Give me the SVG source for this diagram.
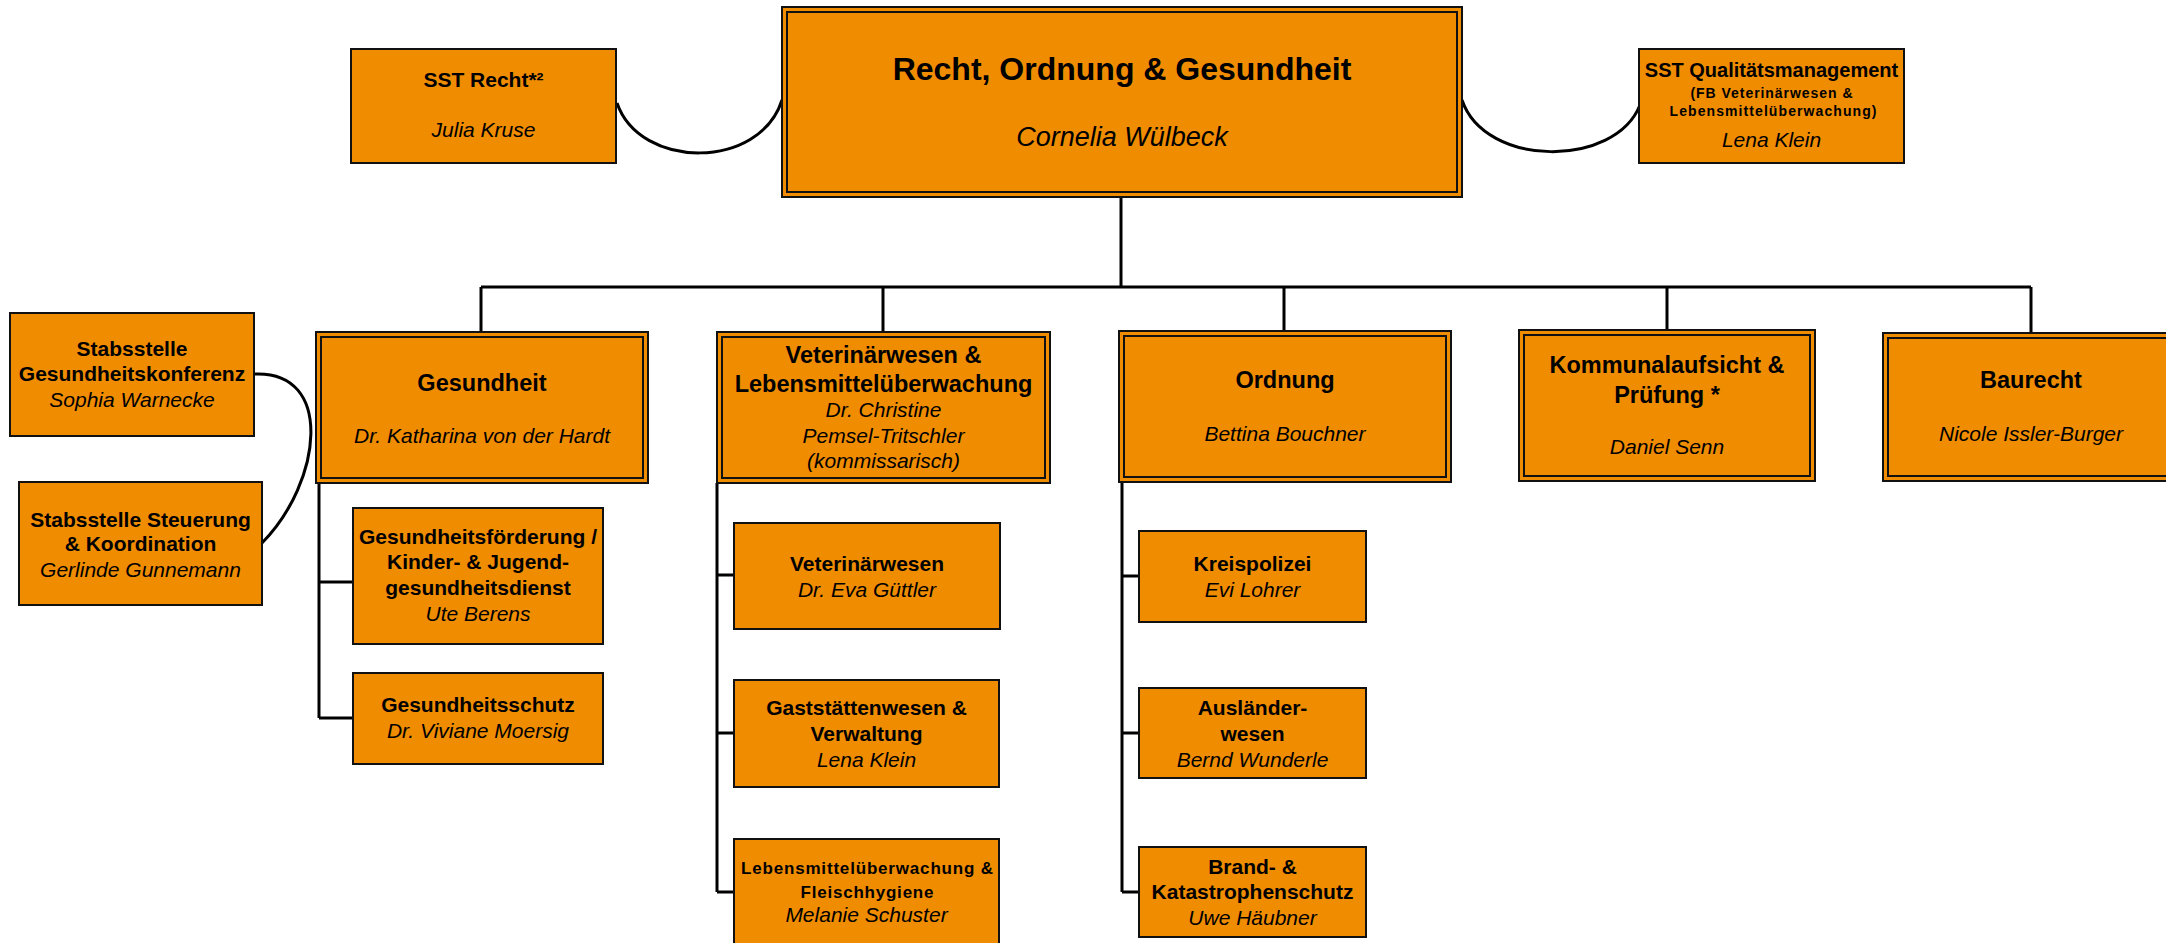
<svg xmlns="http://www.w3.org/2000/svg" width="2166" height="943" viewBox="0 0 2166 943">
<style>
.box{fill:#F08C00;stroke:#111;stroke-width:2}
.inner{fill:none;stroke:#111;stroke-width:2}
.conn{fill:none;stroke:#000;stroke-width:3}
text{font-family:"Liberation Sans",Arial,sans-serif;text-anchor:middle;fill:#000}
.b{font-weight:bold;font-size:21px}
.i{font-style:italic;font-size:21px}
.h2{font-weight:bold;font-size:23.5px}
.sm{font-weight:bold;font-size:14px}
.sm16{font-weight:bold;font-size:17px}
</style>
<rect width="2166" height="943" fill="#fff"/>
<g id="connectors">
<path class="conn" d="M617,103 C640,170 760,170 782,100"/>
<path class="conn" d="M1462,100 C1485,168 1615,168 1640,105"/>
<path class="conn" d="M1121,197 V287"/>
<path class="conn" d="M481,287 H2031"/>
<path class="conn" d="M481,287 V332 M883,287 V332 M1284,287 V331 M1667,287 V330 M2031,287 V333"/>
<path class="conn" d="M254,374 C335,370 322,482 262,543"/>
<path class="conn" d="M319,483 V718 M319,582 H353 M319,718 H353"/>
<path class="conn" d="M717,483 V892 M717,575 H734 M717,733 H734 M717,892 H734"/>
<path class="conn" d="M1122,482 V892 M1122,576 H1139 M1122,733 H1139 M1122,892 H1139"/>
</g>
<g id="top">
<rect class="box" x="782" y="7" width="680" height="190"/>
<rect class="inner" x="787" y="12" width="670" height="180"/>
<text x="1122" y="80" style="font-weight:bold;font-size:32px">Recht, Ordnung &amp; Gesundheit</text>
<text x="1122" y="146" style="font-style:italic;font-size:27px">Cornelia Wülbeck</text>
</g>
<g id="sst-recht">
<rect class="box" x="351" y="49" width="265" height="114"/>
<text class="b" x="483.5" y="87">SST Recht*²</text>
<text class="i" x="483.5" y="137">Julia Kruse</text>
</g>
<g id="sst-qm">
<rect class="box" x="1639" y="49" width="265" height="114"/>
<text x="1771.5" y="77" style="font-weight:bold;font-size:20px">SST Qualitätsmanagement</text>
<text class="sm" x="1771.5" y="98" textLength="162" lengthAdjust="spacing">(FB Veterinärwesen &amp;</text>
<text class="sm" x="1773" y="116" textLength="207" lengthAdjust="spacing">Lebensmittelüberwachung)</text>
<text class="i" x="1771.5" y="147">Lena Klein</text>
</g>
<g id="stab-konferenz">
<rect class="box" x="10" y="313" width="244" height="123"/>
<text class="b" x="132" y="356">Stabsstelle</text>
<text class="b" x="132" y="381">Gesundheitskonferenz</text>
<text class="i" x="132" y="407">Sophia Warnecke</text>
</g>
<g id="stab-steuerung">
<rect class="box" x="19" y="482" width="243" height="123"/>
<text class="b" x="140.5" y="527">Stabsstelle Steuerung</text>
<text class="b" x="140.5" y="551">&amp; Koordination</text>
<text class="i" x="140.5" y="577">Gerlinde Gunnemann</text>
</g>
<g id="gesundheit">
<rect class="box" x="316" y="332" width="332" height="151"/>
<rect class="inner" x="321" y="337" width="322" height="141"/>
<text class="h2" x="482" y="391">Gesundheit</text>
<text class="i" x="482" y="443">Dr. Katharina von der Hardt</text>
</g>
<g id="veterinaer">
<rect class="box" x="717" y="332" width="333" height="151"/>
<rect class="inner" x="722" y="337" width="323" height="141"/>
<text class="h2" x="883.5" y="363">Veterinärwesen &amp;</text>
<text class="h2" x="883.5" y="392">Lebensmittelüberwachung</text>
<text class="i" x="883.5" y="417">Dr. Christine</text>
<text class="i" x="883.5" y="443">Pemsel-Tritschler</text>
<text class="i" x="883.5" y="468">(kommissarisch)</text>
</g>
<g id="ordnung">
<rect class="box" x="1119" y="331" width="332" height="151"/>
<rect class="inner" x="1124" y="336" width="322" height="141"/>
<text class="h2" x="1285" y="388">Ordnung</text>
<text class="i" x="1285" y="441">Bettina Bouchner</text>
</g>
<g id="kommunal">
<rect class="box" x="1519" y="330" width="296" height="151"/>
<rect class="inner" x="1524" y="335" width="286" height="141"/>
<text class="h2" x="1667" y="373">Kommunalaufsicht &amp;</text>
<text class="h2" x="1667" y="403">Prüfung *</text>
<text class="i" x="1667" y="454">Daniel Senn</text>
</g>
<g id="baurecht">
<rect class="box" x="1883" y="333" width="296" height="148"/>
<rect class="inner" x="1888" y="338" width="286" height="138"/>
<text class="h2" x="2031" y="388">Baurecht</text>
<text class="i" x="2031" y="441">Nicole Issler-Burger</text>
</g>
<g id="gesundheitsfoerderung">
<rect class="box" x="353" y="508" width="250" height="136"/>
<text class="b" x="478" y="544">Gesundheitsförderung /</text>
<text class="b" x="478" y="569">Kinder- &amp; Jugend-</text>
<text class="b" x="478" y="595">gesundheitsdienst</text>
<text class="i" x="478" y="621">Ute Berens</text>
</g>
<g id="gesundheitsschutz">
<rect class="box" x="353" y="673" width="250" height="91"/>
<text class="b" x="478" y="712">Gesundheitsschutz</text>
<text class="i" x="478" y="738">Dr. Viviane Moersig</text>
</g>
<g id="vet-wesen">
<rect class="box" x="734" y="523" width="266" height="106"/>
<text class="b" x="867" y="571">Veterinärwesen</text>
<text class="i" x="867" y="597">Dr. Eva Güttler</text>
</g>
<g id="gaststaetten">
<rect class="box" x="734" y="680" width="265" height="107"/>
<text class="b" x="866.5" y="715">Gaststättenwesen &amp;</text>
<text class="b" x="866.5" y="741">Verwaltung</text>
<text class="i" x="866.5" y="767">Lena Klein</text>
</g>
<g id="lebensmittel">
<rect class="box" x="734" y="839" width="265" height="112"/>
<text class="sm16" x="867" y="874" textLength="252" lengthAdjust="spacing">Lebensmittelüberwachung &amp;</text>
<text class="sm16" x="867" y="898" textLength="133" lengthAdjust="spacing">Fleischhygiene</text>
<text class="i" x="866.5" y="922">Melanie Schuster</text>
</g>
<g id="kreispolizei">
<rect class="box" x="1139" y="531" width="227" height="91"/>
<text class="b" x="1252.5" y="571">Kreispolizei</text>
<text class="i" x="1252.5" y="597">Evi Lohrer</text>
</g>
<g id="auslaender">
<rect class="box" x="1139" y="688" width="227" height="90"/>
<text class="b" x="1252.5" y="715">Ausländer-</text>
<text class="b" x="1252.5" y="741">wesen</text>
<text class="i" x="1252.5" y="767">Bernd Wunderle</text>
</g>
<g id="brand">
<rect class="box" x="1139" y="847" width="227" height="90"/>
<text class="b" x="1252.5" y="874">Brand- &amp;</text>
<text class="b" x="1252.5" y="899">Katastrophenschutz</text>
<text class="i" x="1252.5" y="925">Uwe Häubner</text>
</g>
</svg>
